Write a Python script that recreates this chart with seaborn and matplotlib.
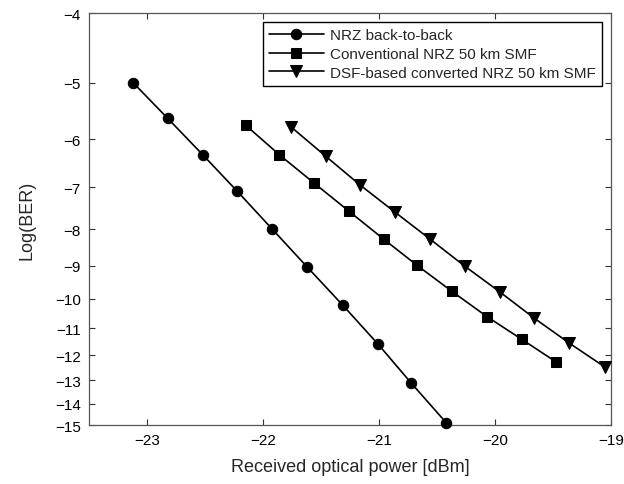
import matplotlib
matplotlib.use("Agg")
import numpy as np
import pandas as pd
import matplotlib.pyplot as plt
import seaborn as sns

# data (x: dBm, y: log10 BER)
b2b_power = [-23.12, -22.82, -22.52, -22.22, -21.92, -21.62, -21.31, -21.01, -20.72, -20.42]
b2b_logber = [-5.00, -5.61, -6.30, -7.09, -8.00, -9.03, -10.22, -11.56, -13.12, -14.89]

conv_power = [-22.15, -21.86, -21.56, -21.26, -20.96, -20.67, -20.37, -20.07, -19.77, -19.47]
conv_logber = [-5.73, -6.30, -6.90, -7.55, -8.26, -8.99, -9.77, -10.59, -11.39, -12.26]

dsf_power = [-21.76, -21.46, -21.16, -20.86, -20.56, -20.26, -19.96, -19.66, -19.36, -19.05]
dsf_logber = [-5.76, -6.33, -6.95, -7.58, -8.26, -9.01, -9.78, -10.65, -11.53, -12.46]

labels = ["NRZ back-to-back", "Conventional NRZ 50 km SMF", "DSF-based converted NRZ 50 km SMF"]
markers = ["o", "s", "v"]
msizes = [7.5, 7.5, 8.5]
yticks = list(range(-4, -16, -1))
xticks = [-23, -22, -21, -20, -19]

sns.set_style("ticks")
plt.rcParams["font.family"] = ["Liberation Sans", "DejaVu Sans"]

fig = plt.figure(figsize=(6.24, 4.85), dpi=100)
ax = fig.add_axes([0.1426, 0.1216, 0.8364, 0.8494])

series = [(b2b_power, b2b_logber), (conv_power, conv_logber), (dsf_power, dsf_logber)]
for (px, py), lab, mk, ms in zip(series, labels, markers, msizes):
    df = pd.DataFrame({"power": px, "logber": py})
    sns.lineplot(data=df, x="power", y="logber", ax=ax, color="black", lw=1.2,
                 marker=mk, markersize=ms, markeredgecolor="black", label=lab,
                 clip_on=False, zorder=3)

# BER-style axis: position ~ log10(-log10 BER)
def fwd(y):
    return -np.log10(np.clip(-np.asarray(y, dtype=float), 1e-6, None))

def inv(f):
    return -10 ** (-np.asarray(f, dtype=float))

ax.set_yscale("function", functions=(fwd, inv))
ax.set_ylim(-15, -4)
ax.set_xlim(-23.5, -19)
ax.set_yticks(yticks)
ax.set_yticklabels([f"\u2212{abs(t)}" for t in yticks])
ax.set_xticks(xticks)
ax.set_xticklabels([f"\u2212{abs(t)}" for t in xticks])
ax.minorticks_off()

ax.tick_params(direction="in", length=4, width=0.8, top=True, right=True,
               labelsize=11, colors="#333333", labelcolor="black", pad=6)
for s in ax.spines.values():
    s.set_color("#555555")
    s.set_linewidth(0.9)

ax.set_xlabel("Received optical power [dBm]", fontsize=13, labelpad=8)
ax.set_ylabel("Log(BER)", fontsize=13, labelpad=14)

leg = ax.legend(loc="upper right", fontsize=11, frameon=True, fancybox=False,
                edgecolor="black", borderaxespad=0.6, handlelength=3.6,
                labelspacing=0.3, borderpad=0.4, handletextpad=0.4)
leg.get_frame().set_linewidth(1.0)
leg.get_frame().set_alpha(1)

fig.savefig("out.png", dpi=100)
